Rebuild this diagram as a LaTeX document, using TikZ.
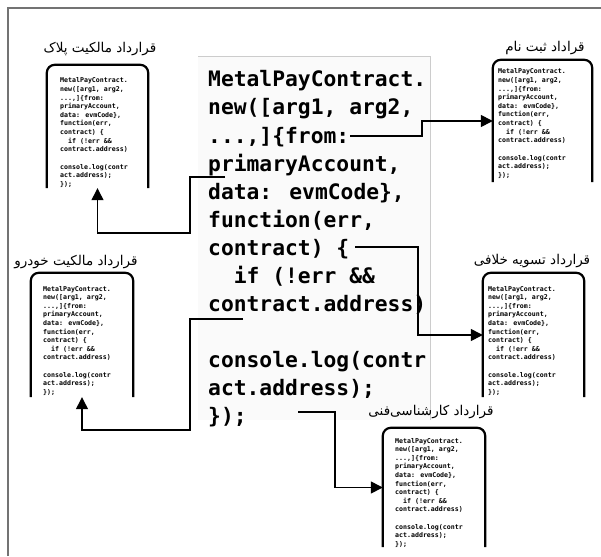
\documentclass[tikz,border=0pt]{standalone}
\usepackage{fontspec}
\usetikzlibrary{arrows.meta}
\TeXXeTstate=1
\newfontfamily\codefont{DejaVu Sans Mono}
\newfontfamily\arabicfont[Script=Arabic]{DejaVu Sans}

\newcommand\codeblk[5]{%
 \begin{scope}[every node/.style={anchor=base west, inner sep=0pt, font=#5}]
  \node (#1l1) at (#2,#3) {MetalPayContract.};
  \node (#1l2) at (#2,{#3+#4}) {new([arg1, arg2,};
  \node (#1l3) at (#2,{#3+2*#4}) {...,]\{from:};
  \node (#1l4) at (#2,{#3+3*#4}) {primaryAccount,};
  \node (#1l5) at (#2,{#3+4*#4}) {data: evmCode\},};
  \node (#1l6) at (#2,{#3+5*#4}) {function(err,};
  \node (#1l7) at (#2,{#3+6*#4}) {contract) \{};
  \node (#1l8) at (#2,{#3+7*#4}) {\phantom{xx}if (!err \&\&};
  \node (#1l9) at (#2,{#3+8*#4}) {contract.address)};
  \node (#1l10) at (#2,{#3+10*#4}) {console.log(contr};
  \node (#1l11) at (#2,{#3+11*#4}) {act.address);};
  \node (#1l12) at (#2,{#3+12*#4}) {\});};
 \end{scope}}

\tikzset{
  boxshape/.style={rectangle, inner sep=0pt, draw=none},
  boxline/.style={draw=black, line width=2.2pt, rounded corners=8pt},
  conn/.style={draw=black, line width=1.3pt, -{Triangle[length=12pt,width=12pt]}},
  lbl/.style={inner sep=0pt, font=\arabicfont\fontsize{13.5}{16}\selectfont},
  frame/.style={draw=black!55, line width=1.5pt},
}
\newcommand\smallfont{\codefont\bfseries\fontsize{6.6}{8}\selectfont}
\newcommand\bigfont{\codefont\bfseries\fontsize{21.3}{28}\selectfont}

\begin{document}
\begin{tikzpicture}[x=1pt,y=-1pt]
\useasboundingbox (0,0) rectangle (601,556);
% outer frame (top and left only)
\draw[frame] (8,556) -- (8,8) -- (601,8);

% central panel
\fill[black!2] (198,57) rectangle (430,420);
\draw[draw=black!20, line width=1pt] (198,57) -- (430,57) -- (430,420);

% main code
\codeblk{M}{208}{87}{28}{\bigfont}

% boxes
\node[boxshape, minimum width=101pt, minimum height=123pt] (boxA) at (97.5,126.5) {};
\node[boxshape, minimum width=99pt, minimum height=122pt] (boxB) at (542.5,121) {};
\node[boxshape, minimum width=102pt, minimum height=124pt] (boxC) at (82,335) {};
\node[boxshape, minimum width=101pt, minimum height=124pt] (boxD) at (533.5,335) {};
\node[boxshape, minimum width=102pt, minimum height=119pt] (boxE) at (434,487.5) {};
\foreach \b in {boxA,boxB,boxC,boxD,boxE}{
  \draw[boxline] (\b.south west) -- (\b.north west) -- (\b.north east) -- (\b.south east);
}

% small code blocks
\codeblk{A}{60}{83}{8.6}{\smallfont}
\codeblk{B}{498}{74}{8.6}{\smallfont}
\codeblk{C}{43}{291}{8.6}{\smallfont}
\codeblk{D}{488}{291}{8.6}{\smallfont}
\codeblk{E}{395}{443}{8.6}{\smallfont}

% labels
\node[lbl] (labA) at (100,49) {\beginR قرارداد مالکیت پلاک\endR};
\node[lbl] (labB) at (545,48) {\beginR قراداد ثبت نام\endR};
\node[lbl] (labC) at (76,262) {\beginR قرارداد مالکیت خودرو\endR};
\node[lbl] (labD) at (532,261) {\beginR قرارداد تسویه خلافی\endR};
\node[lbl] (labE) at (431,412) {\beginR قرارداد کارشناسی‌فنی\endR};

% connectors
\coordinate (s1) at (350,136);
\coordinate (s2) at (225,177);
\coordinate (s3) at (243,319);
\coordinate (s4) at (355,247);
\coordinate (s5) at (298,412);
\draw[conn] (s1) -- ++(72,0) |- (boxB.west);
\draw[conn] (s2) -- ++(-35,0) -- ++(0,56) -| (boxA.south);
\draw[conn] (s3) -- ++(-53,0) -- ++(0,111) -| (boxC.south);
\draw[conn] (s4) -- ++(63,0) |- (boxD.west);
\draw[conn] (s5) -- ++(37,0) |- (boxE.west);
\end{tikzpicture}
\end{document}
